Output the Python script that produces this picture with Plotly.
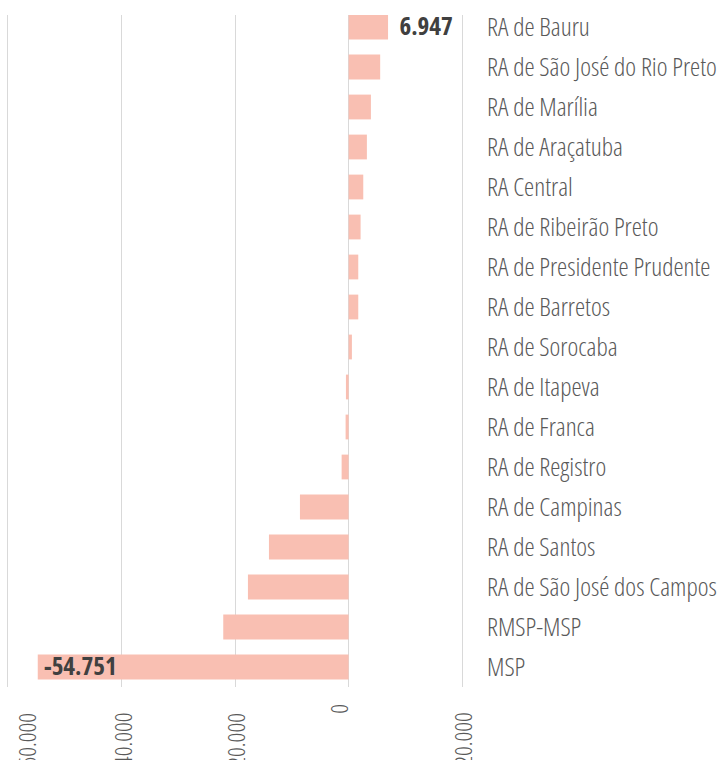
import plotly.graph_objects as go

regions = [
    "RA de Bauru", "RA de São José do Rio Preto", "RA de Marília", "RA de Araçatuba",
    "RA Central", "RA de Ribeirão Preto", "RA de Presidente Prudente", "RA de Barretos",
    "RA de Sorocaba", "RA de Itapeva", "RA de Franca", "RA de Registro",
    "RA de Campinas", "RA de Santos", "RA de São José dos Campos", "RMSP-MSP", "MSP",
]
values = [6947, 5560, 3930, 3220, 2580, 2110, 1700, 1700,
          580, -470, -530, -1230, -8570, -14030, -17730, -22080, -54751]
tick_vals = [-60000, -40000, -20000, 0, 20000]
tick_text = ["-60.000", "-40.000", "-20.000", "0", "20.000"]
labelled = {"RA de Bauru": "6.947", "MSP": "-54.751"}

# horizontal nudges (px) of the rotated tick labels, as in the original
tick_nudge = {-60000: 18, 0: -11}

FONT = "Open Sans, sans-serif"
GRID = "#D9D9D9"
TXT = "#595959"

fig = go.Figure(go.Bar(
    x=values, y=regions, orientation="h",
    marker=dict(color="#F9BFB2", line=dict(width=0)),
    width=0.62, hoverinfo="x+y",
))

for name, txt in labelled.items():
    v = values[regions.index(name)]
    fig.add_annotation(
        x=v, y=name, text=txt, showarrow=False,
        xanchor="left", xshift=4 if v > 0 else -3, yshift=2,
        font=dict(family=FONT, size=25, weight=700, color="#404040"),
    )

for v, t in zip(tick_vals, tick_text):
    fig.add_annotation(
        x=v, xref="x", y=0, yref="paper", text=t, showarrow=False,
        textangle=-90, xanchor="center", yanchor="top",
        xshift=tick_nudge.get(v, 0), yshift=-13,
        font=dict(family=FONT, size=24, weight=300, color=TXT),
    )

fig.update_layout(
    width=718, height=760,
    margin=dict(l=0, r=253, t=15, b=73),
    paper_bgcolor="white", plot_bgcolor="white",
    showlegend=False,
    font=dict(family=FONT, size=25.7, color=TXT),
    xaxis=dict(
        range=[-61400, 20500], tickvals=tick_vals, showticklabels=False,
        showgrid=True, gridcolor=GRID, gridwidth=1,
        zeroline=True, zerolinecolor=GRID, zerolinewidth=1,
        showline=False, ticks="", automargin=False, fixedrange=True,
    ),
    yaxis=dict(
        categoryorder="array", categoryarray=regions,
        range=[16.5, -0.3], side="right", showgrid=False, zeroline=False,
        showline=False, ticks="", ticklabelstandoff=21,
        tickfont=dict(family=FONT, size=25.7, weight=300, color=TXT),
        automargin=False, fixedrange=True,
    ),
)

post = """
document.body.style.margin='0';
var s=document.createElement('style');
s.textContent='.js-plotly-plot text{font-stretch:75% !important;}';
document.head.appendChild(s);
"""
fig.write_html("out.html", post_script=post, config={"displayModeBar": False})
